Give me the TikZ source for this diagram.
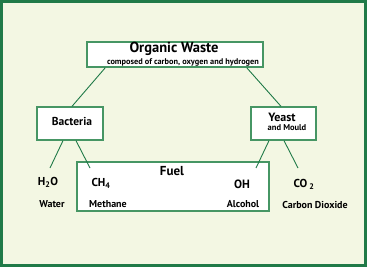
\documentclass[tikz,border=0pt]{standalone}
\usepackage{fontspec}
\setmainfont{PT Sans}
\definecolor{figG}{RGB}{32,122,72}
\definecolor{boxG}{RGB}{70,150,100}
\definecolor{figBg}{RGB}{243,247,227}

\begin{document}
\begin{tikzpicture}[x=1pt,y=-1pt,
  box/.style={draw=boxG,line width=1.3pt,fill=white,inner sep=0pt},
  link/.style={draw=figG,line width=0.9pt},
  txt/.style={font=\bfseries,inner sep=0pt}]
\useasboundingbox (0,0) rectangle (367,267);
\draw[figG,line width=3pt,fill=figBg] (1.5,1.5) rectangle (365.5,265.5);
% boxes
\node[box,minimum width=176pt,minimum height=25pt] (ow) at (175,54.5) {};
\node[box,minimum width=66pt,minimum height=33pt] (bact) at (70,123.5) {};
\node[box,minimum width=65pt,minimum height=33pt] (yeast) at (283.5,123.5) {};
\node[box,minimum width=192pt,minimum height=49pt] (fuel) at (173,186.5) {};
% labels
\node[txt,font=\bfseries\fontsize{14.5}{16}\selectfont] (owt) at (174,49) {Organic Waste};
\node[txt,font=\bfseries\fontsize{8.3}{9}\selectfont] (ows) at (183,62) {composed of carbon, oxygen and hydrogen};
\node[txt,font=\bfseries\fontsize{11.5}{13}\selectfont] (bactt) at (72,121) {Bacteria};
\node[txt,font=\bfseries\fontsize{12}{14}\selectfont] (yeastt) at (282,117) {Yeast};
\node[txt,font=\bfseries\fontsize{8.5}{10}\selectfont] (yeasts) at (287,128) {and Mould};
\node[txt,font=\bfseries\fontsize{13}{15}\selectfont] (fuelt) at (172,171) {Fuel};
\node[txt,font=\bfseries\fontsize{11.5}{13}\selectfont] (h2o) at (48,182) {H\textsubscript{2}O};
\node[txt,font=\bfseries\fontsize{11.5}{13}\selectfont] (ch4) at (101,183) {CH\textsubscript{4}};
\node[txt,font=\bfseries\fontsize{12}{14}\selectfont] (oh) at (242,184) {OH};
\node[txt,font=\bfseries\fontsize{11.5}{13}\selectfont] (co2) at (304,184) {CO\,\textsubscript{2}};
\node[txt,font=\bfseries\fontsize{10}{12}\selectfont] (water) at (52,204) {Water};
\node[txt,font=\bfseries\fontsize{10}{12}\selectfont] (meth) at (108,204) {Methane};
\node[txt,font=\bfseries\fontsize{10}{12}\selectfont] (alc) at (243,204) {Alcohol};
\node[txt,font=\bfseries\fontsize{10}{12}\selectfont] (cdx) at (315,205) {Carbon Dioxide};
% connectors
\coordinate (h2oE) at (50,168);
\coordinate (ch4E) at (90,168);
\coordinate (ohE) at (256,168);
\coordinate (co2E) at (298,168);
\draw[link] ([xshift=19pt]ow.south west) -- ([xshift=2pt]bact.north);
\draw[link] ([xshift=-17pt]ow.south east) -- ([xshift=-2.5pt]yeast.north);
\draw[link] ([xshift=-7pt]bact.south) -- (h2oE);
\draw[link] ([xshift=6pt]bact.south) -- (ch4E);
\draw[link] ([xshift=-14.5pt]yeast.south) -- (ohE);
\draw[link] ([xshift=0.5pt]yeast.south) -- (co2E);
\end{tikzpicture}
\end{document}
